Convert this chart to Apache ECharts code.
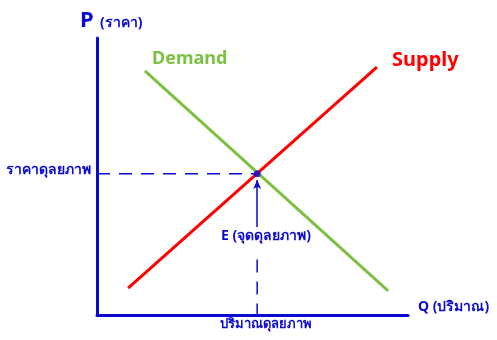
<!DOCTYPE html>
<html>
<head>
<meta charset="utf-8">
<script src="https://cdn.jsdelivr.net/npm/echarts@6/dist/echarts.min.js"></script>
<style>
html,body{margin:0;padding:0;background:#fff;}
#chart{width:497px;height:340px;}
</style>
</head>
<body>
<div id="chart"></div>
<script>
// supply / demand lines (Q, P)
var supplyData = [[1.0, 0.97], [9.0, 8.95]];
var demandData = [[1.54, 8.81], [9.36, 0.87]];
var equilibrium = [5.15, 5.1];
var arrowFromP = 3.18;
var arrowToP = 4.87;
var dashLowFrom = 2.0;

var blue = '#0a0ad2';
var font = '"Noto Sans", "DejaVu Sans", sans-serif';

var chart = echarts.init(document.getElementById('chart'));
chart.setOption({
    animation: false,
    grid: { left: 97, right: 89, top: 38, bottom: 25 },
    xAxis: {
        type: 'value', min: 0, max: 10,
        axisLine: { show: true, lineStyle: { color: blue, width: 3 } },
        axisTick: { show: false }, axisLabel: { show: false }, splitLine: { show: false }
    },
    yAxis: {
        type: 'value', min: 0, max: 10,
        axisLine: { show: true, lineStyle: { color: blue, width: 3 } },
        axisTick: { show: false }, axisLabel: { show: false }, splitLine: { show: false }
    },
    series: [
        {
            name: 'Demand', type: 'line', data: demandData, symbol: 'none',
            lineStyle: { color: '#7cc142', width: 3 }, z: 3
        },
        {
            name: 'Supply', type: 'line', data: supplyData, symbol: 'none',
            lineStyle: { color: '#ff0000', width: 3 }, z: 4
        },
        {
            type: 'line', data: [[0, equilibrium[1]], equilibrium], symbol: 'none',
            lineStyle: { color: blue, width: 1.5, type: [13, 9] }, z: 2
        },
        {
            type: 'line', data: [[equilibrium[0], dashLowFrom], [equilibrium[0], 0]], symbol: 'none',
            lineStyle: { color: blue, width: 1.5, type: [13, 9] }, z: 2
        },
        {
            type: 'scatter', data: [equilibrium], symbolSize: 7,
            itemStyle: { color: blue }, z: 5,
            markLine: {
                silent: true,
                symbol: ['none', 'arrow'],
                symbolSize: [6, 9],
                label: { show: false },
                lineStyle: { color: blue, width: 1.5, type: 'solid' },
                data: [[
                    { coord: [equilibrium[0], arrowFromP] },
                    { coord: [equilibrium[0], arrowToP] }
                ]]
            }
        }
    ],
    graphic: [
        { type: 'text', left: 80, top: 10, style: { text: 'P', fill: blue, font: 'bold 22px ' + font } },
        { type: 'text', left: 100, top: 16, style: { text: '(ราคา)', fill: blue, font: 'bold 14px ' + font } },
        { type: 'text', left: 152, top: 50, style: { text: 'Demand', fill: '#7cc142', font: 'bold 18px ' + font } },
        { type: 'text', left: 392, top: 50, style: { text: 'Supply', fill: '#ff0000', font: 'bold 20px ' + font } },
        { type: 'text', left: 6, top: 163, style: { text: 'ราคาดุลยภาพ', fill: blue, font: 'bold 14px ' + font } },
        { type: 'text', left: 221, top: 229, style: { text: 'E (จุดดุลยภาพ)', fill: blue, font: 'bold 14px ' + font } },
        { type: 'text', left: 220, top: 318, style: { text: 'ปริมาณดุลยภาพ', fill: blue, font: 'bold 13px ' + font } },
        { type: 'text', left: 418, top: 300, style: { text: 'Q (ปริมาณ)', fill: blue, font: 'bold 14px ' + font } }
    ]
});
</script>
</body>
</html>
